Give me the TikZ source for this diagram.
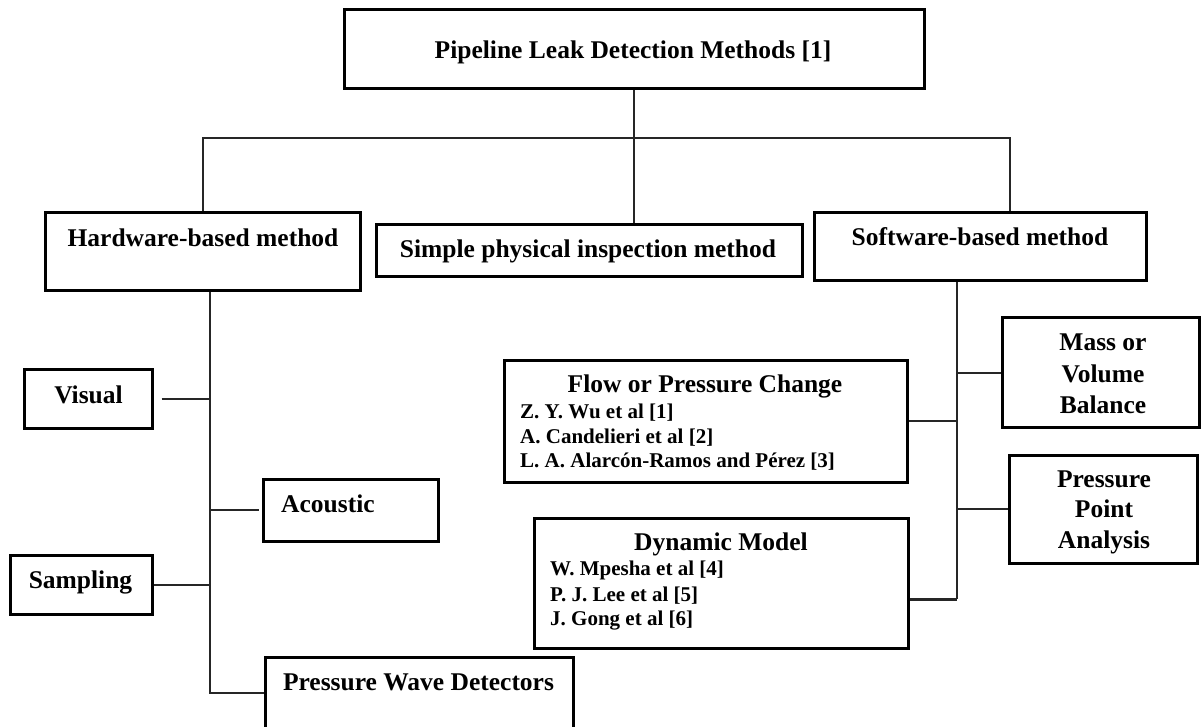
\documentclass[tikz,border=0pt]{standalone}
\usepackage{fontspec}
\setmainfont{Liberation Serif}
\begin{document}
\begin{tikzpicture}[x=1pt,y=-1pt,
  box/.style={draw=black, line width=3pt, inner sep=0pt},
  conn/.style={draw=black!85, line width=2pt},
  head/.style={font=\bfseries\fontsize{25.5}{31}\selectfont, inner sep=0pt, anchor=base},
  cite/.style={font=\bfseries\fontsize{21}{25}\selectfont, inner sep=0pt, anchor=base west}]
\useasboundingbox (0,0) rectangle (1202,727);
\fill[white] (0,0) rectangle (1202,727);

% boxes
\node[box, minimum width=580pt, minimum height=79pt] (top) at (634,49.5) {};
\node[box, minimum width=315pt, minimum height=78pt] (hw) at (202.5,252) {};
\node[box, minimum width=426pt, minimum height=52pt] (simple) at (589,251) {};
\node[box, minimum width=332pt, minimum height=68pt] (sw) at (980,247) {};
\node[box, minimum width=128pt, minimum height=59pt] (visual) at (88,398.5) {};
\node[box, minimum width=175pt, minimum height=62pt] (acoustic) at (350.5,510) {};
\node[box, minimum width=142pt, minimum height=59pt] (sampling) at (81,584.5) {};
\node[box, minimum width=308pt, minimum height=72pt] (pwd) at (419,693) {};
\node[box, minimum width=403pt, minimum height=122pt] (flow) at (705.5,421) {};
\node[box, minimum width=374pt, minimum height=130pt] (dyn) at (721,583) {};
\node[box, minimum width=197pt, minimum height=109pt] (mass) at (1100.5,372.5) {};
\node[box, minimum width=188pt, minimum height=108pt] (ppa) at (1103,509) {};

% texts
\node[head] (t-top) at (633,59) {Pipeline Leak Detection Methods [1]};
\node[head] (t-hw) at (203,247) {Hardware-based method};
\node[head] (t-simple) at (588,258) {Simple physical inspection method};
\node[head] (t-sw) at (980,246) {Software-based method};
\node[head] (t-visual) at (88.5,403) {Visual};
\node[head, anchor=base west] (t-acoustic) at (281,512) {Acoustic};
\node[head] (t-sampling) at (80.5,588) {Sampling};
\node[head] (t-pwd) at (418.5,690) {Pressure Wave Detectors};
\node[head] (t-flow) at (705,392) {Flow or Pressure Change};
\node[cite] (c1) at (520,418) {Z. Y. Wu et al [1]};
\node[cite] (c2) at (520,443) {A. Candelieri et al [2]};
\node[cite] (c3) at (520,467) {L. A. Alarcón-Ramos and Pérez [3]};
\node[head] (t-dyn) at (721,550) {Dynamic Model};
\node[cite] (c4) at (550,575) {W. Mpesha et al [4]};
\node[cite] (c5) at (550,601) {P. J. Lee et al [5]};
\node[cite] (c6) at (550,625) {J. Gong et al [6]};
\node[head] (m1) at (1103,350) {Mass or};
\node[head] (m2) at (1103,382) {Volume};
\node[head] (m3) at (1103,413) {Balance};
\node[head] (p1) at (1104,487) {Pressure};
\node[head] (p2) at (1104,517) {Point};
\node[head] (p3) at (1104,548) {Analysis};

% connectors
\coordinate (bus) at ([yshift=-48pt]top.south);
\draw[conn] (top.south) -- (bus);
\draw[conn] (hw.north) |- (bus) -| ([xshift=30pt]sw.north);
\draw[conn] (bus) -- (bus |- simple.north);

\coordinate (hwl) at ([xshift=7.5pt]hw.south);
\draw[conn] (hwl) |- (pwd.west);
\draw[conn] ([xshift=8pt]visual.east) -- (visual.east -| hwl);
\draw[conn] (hwl |- acoustic.west) -- ([xshift=-3pt]acoustic.west);
\draw[conn] (sampling.east) -- (sampling.east -| hwl);

\coordinate (swl) at ([xshift=-23pt]sw.south);
\coordinate (dync) at ([yshift=-16pt]dyn.east);
\draw[conn] (swl) -- (swl |- dync);
\draw[conn, line width=3pt] (dync) -- (dync -| swl);
\draw[conn] (mass.west) -- (mass.west -| swl);
\draw[conn] (flow.east) -- (flow.east -| swl);
\draw[conn] (ppa.west) -- (ppa.west -| swl);
\end{tikzpicture}
\end{document}
